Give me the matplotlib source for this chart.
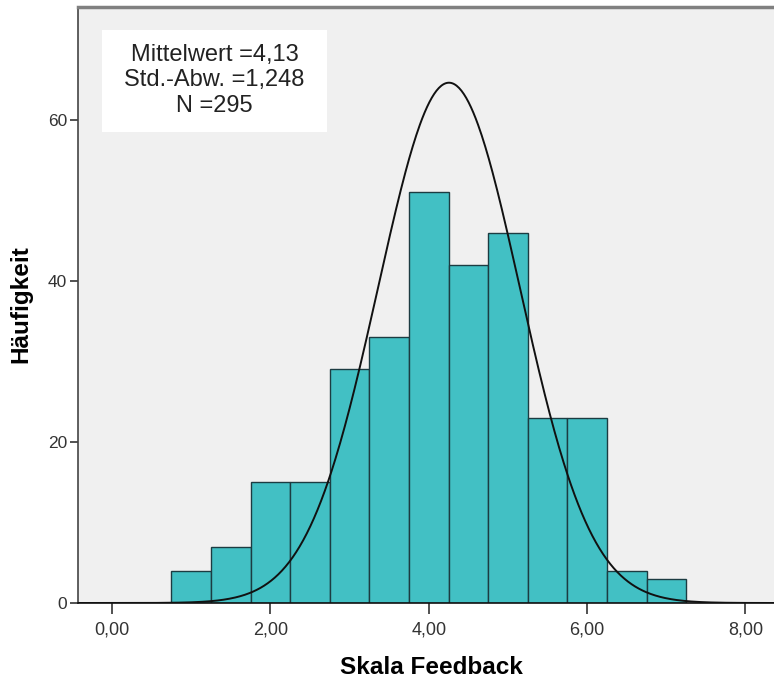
import numpy as np
import matplotlib.pyplot as plt
from matplotlib.patches import Rectangle

plt.rcParams["font.family"] = ["Liberation Sans", "DejaVu Sans"]

# ---- Histogram data (bins of width 0.5, centred on 1,00 ... 7,00) ----
bin_edges = [0.75, 1.25, 1.75, 2.25, 2.75, 3.25, 3.75, 4.25, 4.75, 5.25, 5.75, 6.25, 6.75, 7.25]
counts = [4, 7, 15, 15, 29, 33, 51, 42, 46, 23, 23, 4, 3]

# normal curve as drawn in the chart
curve_mean = 4.255
curve_sd = 0.895
curve_peak = 64.6

x_ticks = [0, 2, 4, 6, 8]
x_tick_labels = ["0,00", "2,00", "4,00", "6,00", "8,00"]
y_ticks = [0, 20, 40, 60]
stats_text = "Mittelwert =4,13\nStd.-Abw. =1,248\nN =295"

W, H = 774, 687
fig = plt.figure(figsize=(W / 100, H / 100), dpi=100)
ax = fig.add_axes([78 / W, 84 / H, 1 - 78 / W, 596 / H])
ax.set_facecolor("#f0f0f0")

lefts = np.array(bin_edges[:-1])
widths = np.diff(bin_edges)
ax.bar(lefts, counts, width=widths, align="edge", color="#42c0c4",
       edgecolor="#1c3c42", linewidth=1.0, zorder=2)

xs = np.linspace(-0.5, 8.5, 600)
ys = curve_peak * np.exp(-0.5 * ((xs - curve_mean) / curve_sd) ** 2)
ax.plot(xs, ys, color="#111111", linewidth=1.4, zorder=3)

ax.set_xlim(-0.43, 8.36)
ax.set_ylim(0, 74)
ax.set_xticks(x_ticks)
ax.set_xticklabels(x_tick_labels)
ax.set_yticks(y_ticks)
ax.tick_params(axis="x", length=8, width=1.2, color="#333333", labelsize=13,
               labelcolor="#333333", pad=5, direction="out")
ax.tick_params(axis="y", length=6, width=1.2, color="#333333", labelsize=12.5,
               labelcolor="#333333", pad=2, direction="out")

ax.spines["right"].set_visible(False)
ax.spines["left"].set_color("#444444")
ax.spines["left"].set_linewidth(1.2)
ax.spines["bottom"].set_color("#111111")
ax.spines["bottom"].set_linewidth(1.2)
ax.spines["top"].set_color("#808080")
ax.spines["top"].set_linewidth(2.5)

# stats box
ax.add_patch(Rectangle((0.0345, 0.790), 0.323, 0.171, transform=ax.transAxes,
                       facecolor="white", edgecolor="none", zorder=4))
ax.text(0.196, 0.877, stats_text, transform=ax.transAxes, ha="center", va="center",
        fontsize=17, color="#222222", linespacing=1.2, zorder=5)

fig.text(431 / W, 1 - 667 / H, "Skala Feedback", ha="center", va="center",
         fontsize=17.5, fontweight="bold")
fig.text(21 / W, 1 - 304 / H, "Häufigkeit", ha="center", va="center",
         fontsize=17.5, fontweight="bold", rotation=90)

fig.savefig("out.png", dpi=100)
